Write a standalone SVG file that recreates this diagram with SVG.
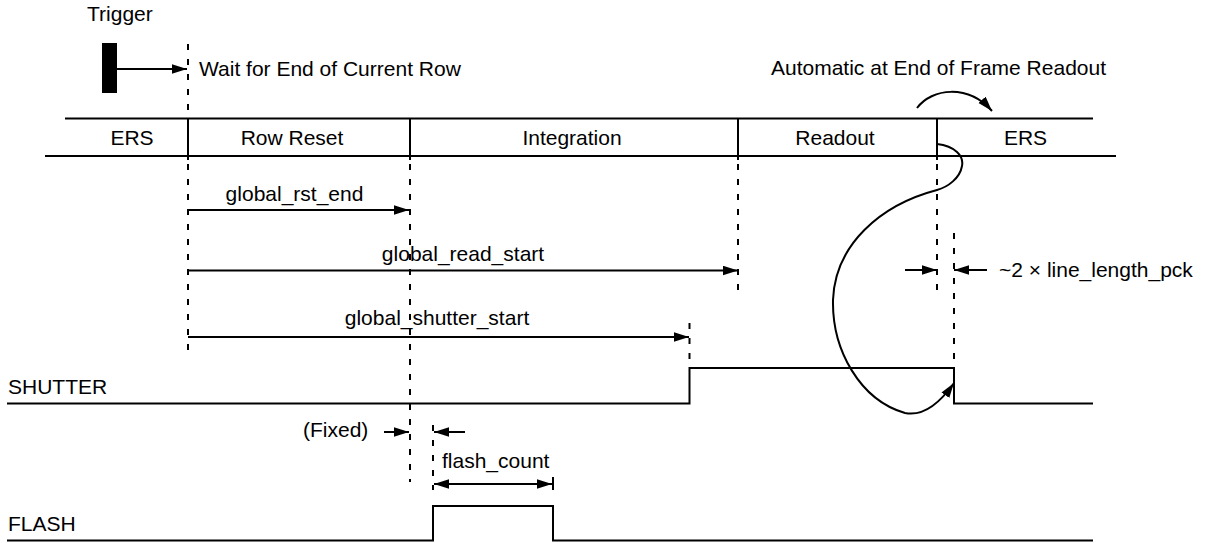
<svg xmlns="http://www.w3.org/2000/svg" width="1207" height="543" viewBox="0 0 1207 543">
<style>
text{font-family:"Liberation Sans",Arial,Helvetica,sans-serif;font-size:21px;fill:#000}
.m{text-anchor:middle}
.ln{stroke:#000;stroke-width:2;fill:none}
.dash{stroke:#000;stroke-width:2;fill:none;stroke-dasharray:6,9}
.arr{stroke:#000;stroke-width:2;fill:none;marker-end:url(#ah)}
.arr2{stroke:#000;stroke-width:2;fill:none;marker-end:url(#ah);marker-start:url(#ah)}
</style>
<defs>
<marker id="ah" markerUnits="userSpaceOnUse" markerWidth="16" markerHeight="10" refX="15" refY="4.75" orient="auto-start-reverse">
<path d="M0,0 L15,4.75 L0,9.5 z" fill="#000"/>
</marker>
</defs>
<rect width="1207" height="543" fill="#fff"/>

<g id="trigger">
<text x="87" y="21">Trigger</text>
<rect x="102" y="43" width="15" height="50" fill="#000"/>
</g>
<g id="wait-label"><text x="199" y="76">Wait for End of Current Row</text></g>
<g id="auto-label"><text x="771" y="75">Automatic at End of Frame Readout</text></g>

<g id="timeline">
<line class="ln" x1="65" y1="118.5" x2="1093" y2="118.5"/>
<line class="ln" x1="45" y1="156" x2="1116" y2="156"/>
<line class="ln" x1="188" y1="118" x2="188" y2="160"/>
<line class="ln" x1="410" y1="118" x2="410" y2="160"/>
<line class="ln" x1="738" y1="118" x2="738" y2="160"/>
<line class="ln" x1="937" y1="118" x2="937" y2="160"/>
</g>
<g id="seg-ers1"><text class="m" x="132" y="145">ERS</text></g>
<g id="seg-rowreset"><text class="m" x="292" y="145">Row Reset</text></g>
<g id="seg-integration"><text class="m" x="572" y="145">Integration</text></g>
<g id="seg-readout"><text class="m" x="835" y="145">Readout</text></g>
<g id="seg-ers2"><text class="m" x="1025.5" y="145">ERS</text></g>

<g id="guides">
<line class="dash" x1="188" y1="44" x2="188" y2="352"/>
<line class="dash" x1="410" y1="164" x2="410" y2="482"/>
<line class="dash" x1="738" y1="164" x2="738" y2="292"/>
<line class="dash" x1="937" y1="164" x2="937" y2="292"/>
<line class="dash" x1="954" y1="233" x2="954" y2="368"/>
<line class="dash" x1="689.5" y1="323" x2="689.5" y2="368"/>
<line class="dash" x1="433" y1="425" x2="433" y2="490"/>
<line class="ln" x1="553" y1="477" x2="553" y2="490"/>
</g>

<g id="shutter">
<text x="8" y="394">SHUTTER</text>
<polyline class="ln" points="7,403.5 689.5,403.5 689.5,368 954,368 954,403.5 1093,403.5"/>
</g>
<g id="flash">
<text x="8" y="531">FLASH</text>
<polyline class="ln" points="7,540.5 433,540.5 433,506 553,506 553,540.5 1093,540.5"/>
</g>

<g id="labels">
<text class="m" x="294.5" y="201">global_rst_end</text>
<text class="m" x="463" y="261">global_read_start</text>
<text class="m" x="437" y="325">global_shutter_start</text>
<text x="999" y="277">~2 × line_length_pck</text>
<text x="303" y="437">(Fixed)</text>
<text x="442" y="468">flash_count</text>
</g>

<g id="connectors">
<line class="arr" x1="117" y1="69" x2="187" y2="69"/>
<line class="arr" x1="188" y1="210" x2="409" y2="210"/>
<line class="arr" x1="188" y1="270.5" x2="738" y2="270.5"/>
<line class="arr" x1="188" y1="337" x2="689" y2="337"/>
<line class="arr" x1="905" y1="270" x2="937" y2="270"/>
<line class="arr" x1="987" y1="270" x2="954" y2="270"/>
<line class="arr" x1="384" y1="432" x2="409" y2="432"/>
<line class="arr" x1="465" y1="432" x2="434" y2="432"/>
<line class="arr2" x1="434" y1="484" x2="552" y2="484"/>
<path class="arr" d="M917,108 C932,88 968,84 992,111"/>
<path class="arr" d="M937,144 C955,146 964,156 962,166 C960,178 948,187 937,190 C880,205 835,245 833,300 C832,350 860,400 905,413 C925,417 942,400 954,383"/>
</g>
</svg>
